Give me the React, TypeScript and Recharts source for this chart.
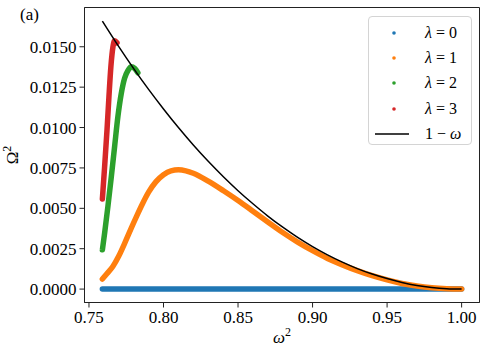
import React from 'react';
import { LineChart, Line, XAxis, YAxis, Legend, ReferenceArea } from 'recharts';

const FONT = '"Liberation Serif", "Times New Roman", serif';

const xTicks = [0.75, 0.8, 0.85, 0.9, 0.95, 1.0];
const yTicks = [0, 0.0025, 0.005, 0.0075, 0.01, 0.0125, 0.015];

// λ = 0
const lambda0X = [0.759, 1.0];
const lambda0Y = [0, 0];

// λ = 1
const lambda1X = [0.759, 0.762, 0.766, 0.77, 0.774, 0.778, 0.782, 0.786, 0.79, 0.795, 0.8, 0.805, 0.81, 0.815, 0.82, 0.83, 0.84, 0.85, 0.86, 0.87, 0.88, 0.89, 0.9, 0.91, 0.92, 0.93, 0.94, 0.95, 0.96, 0.97, 0.98, 0.99, 1.0];
const lambda1Y = [0.00062, 0.00095, 0.0014, 0.00205, 0.00285, 0.0037, 0.00452, 0.0053, 0.006, 0.00665, 0.00708, 0.00732, 0.00738, 0.00732, 0.00717, 0.00668, 0.0061, 0.00548, 0.00482, 0.00415, 0.0035, 0.00291, 0.00238, 0.0019, 0.0015, 0.00114, 0.00083, 0.00057, 0.00035, 0.00019, 0.00008, 0.00002, 0];

// λ = 2
const lambda2X = [0.759, 0.7605, 0.7627, 0.765, 0.7672, 0.7694, 0.7717, 0.7739, 0.7761, 0.7784, 0.7806, 0.7828];
const lambda2Y = [0.00243, 0.00346, 0.00511, 0.00696, 0.00882, 0.01067, 0.01212, 0.01305, 0.01352, 0.01376, 0.01366, 0.01339];

// λ = 3
const lambda3X = [0.759, 0.7605, 0.7621, 0.7634, 0.7647, 0.7661, 0.7672, 0.7688];
const lambda3Y = [0.00558, 0.00758, 0.00985, 0.01191, 0.01376, 0.015, 0.01537, 0.01525];

// 1 − ω bound
const boundX = [0.759, 0.77, 0.78, 0.79, 0.8, 0.81, 0.82, 0.83, 0.84, 0.85, 0.86, 0.87, 0.88, 0.89, 0.9, 0.91, 0.92, 0.93, 0.94, 0.95, 0.96, 0.97, 0.98, 0.99, 1.0];
const boundY = [0.01659, 0.01501, 0.01365, 0.01236, 0.01115, 0.01, 0.00892, 0.00791, 0.00697, 0.00609, 0.00528, 0.00452, 0.00383, 0.0032, 0.00263, 0.00212, 0.00167, 0.00127, 0.00093, 0.00065, 0.00041, 0.000225, 0.0001, 0.000025, 0];

const toPoints = (xs: number[], ys: number[]) => xs.map((x, i) => ({ x, y: ys[i] }));

const dotSeries = [
  { key: 'l0', label: '0', color: '#1f77b4', data: toPoints(lambda0X, lambda0Y) },
  { key: 'l1', label: '1', color: '#ff7f0e', data: toPoints(lambda1X, lambda1Y) },
  { key: 'l2', label: '2', color: '#2ca02c', data: toPoints(lambda2X, lambda2Y) },
  { key: 'l3', label: '3', color: '#d62728', data: toPoints(lambda3X, lambda3Y) },
];
const boundData = toPoints(boundX, boundY);

const X_DOMAIN: [number, number] = [0.747, 1.012];
const Y_DOMAIN: [number, number] = [-0.00083, 0.01743];
const AXIS_COLOR = '#222';

const LegendBox = () => (
  <div
    style={{
      width: 104,
      height: 129,
      boxSizing: 'border-box',
      border: '1px solid #d4d4d4',
      borderRadius: 4,
      background: 'rgba(255,255,255,0.8)',
      fontFamily: FONT,
      fontSize: 16,
      color: '#000',
      paddingTop: 3,
    }}
  >
    {dotSeries.map((s) => (
      <div key={s.key} style={{ display: 'flex', alignItems: 'center', height: 25.3 }}>
        <svg width={56} height={10} style={{ display: 'block', flexShrink: 0 }}>
          <circle cx={25} cy={5} r={1.8} fill={s.color} />
        </svg>
        <span style={{ whiteSpace: 'nowrap' }}>
          <i>λ</i>
          {' = '}
          {s.label}
        </span>
      </div>
    ))}
    <div style={{ display: 'flex', alignItems: 'center', height: 25.3 }}>
      <svg width={56} height={10} style={{ display: 'block', flexShrink: 0 }}>
        <line x1={6} x2={40} y1={5} y2={5} stroke="#000" strokeWidth={1.5} />
      </svg>
      <span style={{ whiteSpace: 'nowrap' }}>
        1 − <i>ω</i>
      </span>
    </div>
  </div>
);

const XAxisLabel = (props: any) => {
  const vb = props.viewBox || {};
  const cx = vb.x + vb.width / 2;
  return (
    <text x={cx} y={vb.y + 40.5} textAnchor="middle" fontFamily={FONT} fontSize={17} fill="#000">
      <tspan fontStyle="italic">ω</tspan>
      <tspan fontSize={12} dy={-7}>2</tspan>
    </text>
  );
};

const YAxisLabel = (props: any) => {
  const vb = props.viewBox || {};
  const cy = vb.y + vb.height / 2;
  const x = 18;
  return (
    <text
      x={x}
      y={cy}
      textAnchor="middle"
      fontFamily={FONT}
      fontSize={17}
      fill="#000"
      transform={`rotate(-90, ${x}, ${cy})`}
    >
      <tspan>Ω</tspan>
      <tspan fontSize={12} dy={-7}>2</tspan>
    </text>
  );
};

export default function App() {
  return (
    <div style={{ position: 'absolute', left: 0, top: 0, width: 488, height: 356, background: '#fff', fontFamily: FONT }}>
      <div
        style={{
          position: 'absolute',
          left: 20,
          top: 5,
          fontFamily: FONT,
          fontSize: 17,
          color: '#000',
          lineHeight: '20px',
        }}
      >
        (a)
      </div>
      <LineChart width={488} height={356} margin={{ top: 7.5, right: 8.5, left: 0, bottom: 0 }}>
        <XAxis
          xAxisId="main"
          type="number"
          dataKey="x"
          domain={X_DOMAIN}
          allowDataOverflow
          ticks={xTicks}
          tickFormatter={(v: number) => v.toFixed(2)}
          height={53.5}
          tickSize={5}
          tickMargin={3}
          stroke={AXIS_COLOR}
          tick={{ fill: '#000', fontSize: 17, fontFamily: FONT }}
          label={<XAxisLabel />}
        />
        <YAxis
          yAxisId="main"
          type="number"
          domain={Y_DOMAIN}
          allowDataOverflow
          ticks={yTicks}
          tickFormatter={(v: number) => v.toFixed(4)}
          width={84.5}
          tickSize={5}
          tickMargin={3}
          stroke={AXIS_COLOR}
          tick={{ fill: '#000', fontSize: 17, fontFamily: FONT }}
          label={<YAxisLabel />}
        />
        <ReferenceArea
          xAxisId="main"
          yAxisId="main"
          x1={X_DOMAIN[0]}
          x2={X_DOMAIN[1]}
          y1={Y_DOMAIN[0]}
          y2={Y_DOMAIN[1]}
          fill="none"
          fillOpacity={0}
          stroke={AXIS_COLOR}
          strokeWidth={1}
          ifOverflow="visible"
        />
        <Legend
          layout="vertical"
          align="center"
          verticalAlign="middle"
          content={<LegendBox />}
          wrapperStyle={{ position: 'absolute', left: 368, top: 16, width: 104, height: 129, margin: 0 }}
        />
        {dotSeries.map((s) => (
          <Line
            key={s.key}
            xAxisId="main"
            yAxisId="main"
            data={s.data}
            dataKey="y"
            name={`λ=${s.label}`}
            type="monotone"
            stroke={s.color}
            strokeWidth={5.5}
            strokeLinecap="round"
            strokeLinejoin="round"
            dot={false}
            activeDot={false}
            legendType="circle"
            isAnimationActive={false}
          />
        ))}
        <Line
          xAxisId="main"
          yAxisId="main"
          data={boundData}
          dataKey="y"
          name="1−ω"
          type="monotone"
          stroke="#000"
          strokeWidth={1.5}
          dot={false}
          activeDot={false}
          legendType="line"
          isAnimationActive={false}
        />
      </LineChart>
    </div>
  );
}
